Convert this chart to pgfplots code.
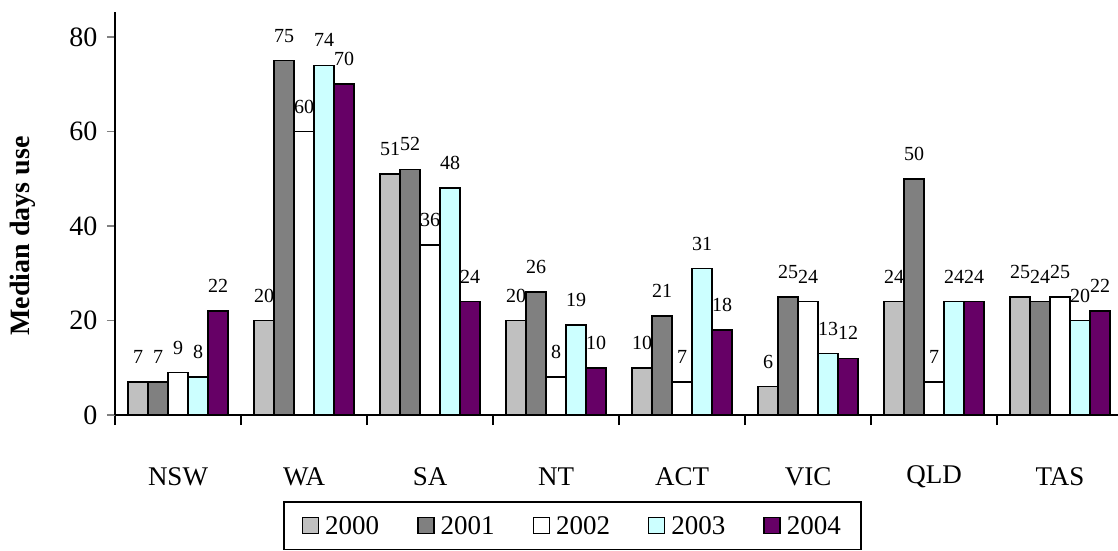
\documentclass[border=0pt]{standalone}
\usepackage{fontspec}
\setmainfont{Liberation Serif}
\usepackage{pgfplots}
\pgfplotsset{compat=1.18}

\definecolor{cA}{HTML}{C0C0C0}
\definecolor{cB}{HTML}{808080}
\definecolor{cC}{HTML}{FFFFFF}
\definecolor{cD}{HTML}{CCFFFF}
\definecolor{cE}{HTML}{660066}

\pgfplotsset{
  sq legend/.style={legend image code/.code={
    \draw[##1, line width=1.4pt] (0pt,-8pt) rectangle (16pt,8pt);}},
}

\begin{document}
\begin{tikzpicture}[x=1pt,y=1pt]
\useasboundingbox (0,0) rectangle (1118,550);
\begin{axis}[
    at={(115pt,135pt)}, anchor=south west,
    scale only axis, width=1003pt, height=403pt,
    /pgf/number format/assume math mode=true,
    ybar=0pt, bar width=20pt,
    xmin=-0.5, xmax=7.46,
    ymin=0, ymax=85.3,
    axis x line*=bottom, axis y line*=left,
    axis line style={-, line width=1.6pt},
    tick align=outside,
    ytick={0,20,40,60,80},
    xtick={0,1,2,3,4,5,6,7},
    xticklabels={NSW,WA,SA,NT,ACT,VIC,QLD,TAS},
    minor xtick={-0.5,0.5,1.5,2.5,3.5,4.5,5.5,6.5},
    major tick length=8pt, minor tick length=10pt,
    xtick style={draw=none},
    minor x tick style={draw=black, line width=1.6pt},
    ytick style={line width=1.6pt},
    x tick label style={font=\fontsize{27}{30}\selectfont, anchor=center, yshift=-54pt},
    y tick label style={font=\fontsize{28}{31}\selectfont, xshift=-6pt},
    ylabel={\textbf{Median days use}},
    ylabel style={font=\fontsize{28}{32}\selectfont, at={(axis description cs:-0.092,0.444)}, anchor=center},
    nodes near coords,
    every node near coord/.append style={font=\fontsize{20}{23}\selectfont, anchor=center, yshift=25pt},
    legend columns=5,
    legend style={at={(axis description cs:0.1675,-0.214)}, anchor=north west,
      draw=black, line width=1.6pt, font=\fontsize{27}{30}\selectfont,
      inner xsep=18pt, inner ysep=12pt,
      column sep=36pt,
      /tikz/every odd column/.append style={column sep=4pt}},
  ]
  \addplot[fill=cA, draw=black, line width=1.6pt, sq legend] coordinates {(0,7) (1,20) (2,51) (3,20) (4,10) (5,6) (6,24) (7,25)};
  \addplot[fill=cB, draw=black, line width=1.6pt, sq legend] coordinates {(0,7) (1,75) (2,52) (3,26) (4,21) (5,25) (6,50) (7,24)};
  \addplot[fill=cC, draw=black, line width=1.6pt, sq legend] coordinates {(0,9) (1,60) (2,36) (3,8) (4,7) (5,24) (6,7) (7,25)};
  \addplot[fill=cD, draw=black, line width=1.6pt, sq legend] coordinates {(0,8) (1,74) (2,48) (3,19) (4,31) (5,13) (6,24) (7,20)};
  \addplot[fill=cE, draw=black, line width=1.6pt, sq legend] coordinates {(0,22) (1,70) (2,24) (3,10) (4,18) (5,12) (6,24) (7,22)};
  \legend{2000,2001,2002,2003,2004}
\end{axis}
\end{tikzpicture}
\end{document}
